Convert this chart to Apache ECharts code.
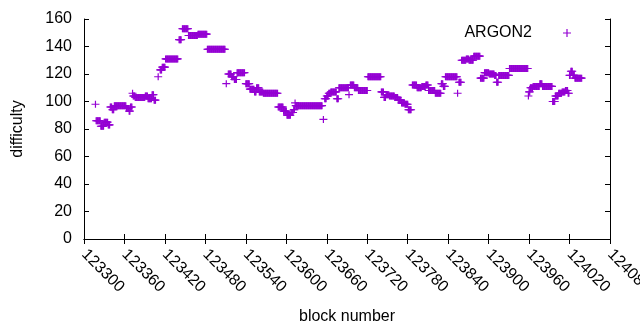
<!DOCTYPE html>
<html>
<head>
<meta charset="utf-8">
<script src="https://cdn.jsdelivr.net/npm/echarts@6/dist/echarts.min.js"></script>
<style>
  html, body { margin: 0; padding: 0; background: #fff; }
  #main { width: 640px; height: 330px; }
</style>
</head>
<body>
<div id="main"></div>
<script>
// x / y axis ticks
const blockTicks = [123300, 123360, 123420, 123480, 123540, 123600, 123660, 123720, 123780, 123840, 123900, 123960, 124020, 124080];
const difficultyTicks = [0, 20, 40, 60, 80, 100, 120, 140, 160];

// difficulty per block, as runs: [first block, last block, difficulty]
const difficultyRuns = [
  [123317, 123317, 98],
  [123318, 123324, 86], [123325, 123329, 82], [123330, 123335, 85], [123336, 123338, 83],
  [123339, 123341, 96], [123342, 123344, 94], [123345, 123362, 97], [123363, 123366, 95],
  [123367, 123368, 93], [123369, 123371, 96],
  [123372, 123372, 106], [123373, 123375, 104], [123376, 123390, 103], [123391, 123394, 104],
  [123395, 123400, 102], [123401, 123403, 105], [123404, 123406, 101],
  [123410, 123410, 118], [123413, 123415, 123], [123416, 123420, 125],
  [123421, 123439, 131],
  [123441, 123444, 145], [123446, 123454, 153], [123455, 123468, 148], [123469, 123482, 149],
  [123483, 123509, 138],
  [123511, 123511, 113], [123514, 123518, 120], [123519, 123522, 118], [123523, 123526, 116],
  [123527, 123538, 121],
  [123540, 123545, 113], [123546, 123552, 109], [123553, 123555, 107], [123556, 123559, 110],
  [123560, 123565, 107], [123566, 123587, 106],
  [123588, 123595, 96], [123596, 123600, 93], [123601, 123606, 90], [123607, 123610, 92],
  [123611, 123612, 94], [123613, 123613, 99], [123614, 123653, 97],
  [123655, 123655, 87],
  [123657, 123659, 102], [123660, 123662, 104], [123663, 123665, 106], [123666, 123674, 107],
  [123675, 123677, 102],
  [123678, 123692, 110], [123693, 123693, 105], [123695, 123700, 112], [123701, 123706, 110],
  [123707, 123720, 108],
  [123721, 123740, 118],
  [123741, 123744, 107], [123745, 123747, 103], [123748, 123752, 105], [123753, 123760, 104],
  [123761, 123765, 103], [123766, 123770, 101], [123771, 123775, 99], [123776, 123780, 98],
  [123781, 123785, 94],
  [123787, 123793, 112], [123794, 123800, 110], [123801, 123806, 111], [123807, 123810, 112],
  [123811, 123820, 108], [123821, 123829, 106],
  [123830, 123832, 113], [123833, 123835, 111],
  [123836, 123853, 118], [123854, 123854, 106],
  [123856, 123859, 114], [123860, 123866, 130], [123867, 123870, 131], [123871, 123877, 130],
  [123878, 123887, 133],
  [123888, 123893, 117], [123894, 123900, 121], [123901, 123908, 120], [123909, 123911, 119],
  [123912, 123914, 114], [123915, 123930, 119],
  [123931, 123958, 124],
  [123959, 123959, 104], [123960, 123961, 107], [123962, 123965, 110], [123966, 123975, 111],
  [123976, 123979, 113], [123980, 123994, 111],
  [123995, 123998, 100], [123999, 124003, 104], [124004, 124008, 106], [124009, 124013, 107],
  [124014, 124017, 108], [124018, 124019, 106],
  [124020, 124021, 119], [124022, 124024, 122], [124025, 124027, 119], [124028, 124038, 117]
];

// one point per block
const points = [];
difficultyRuns.forEach(function (r) {
  for (let b = r[0]; b <= r[1]; b++) points.push([b, r[2]]);
});

const plusIcon = 'path://M0,4.25H10V5.75H0Z M4.25,0H5.75V10H4.25Z';
const purple = '#9400D3';
const font = 'Liberation Sans, Arial, sans-serif';

const myChart = echarts.init(document.getElementById('main'), null, { renderer: 'canvas' });

const tickStyle = { show: true, inside: true, length: 5, lineStyle: { color: '#000', width: 1 } };
const lineStyle = { show: true, lineStyle: { color: '#000', width: 1 } };

const option = {
  animation: false,
  backgroundColor: '#fff',
  grid: { left: 84, right: 30, top: 19, bottom: 91, containLabel: false, outerBoundsMode: 'none' },
  legend: {
    data: [{ name: 'ARGON2', icon: plusIcon }],
    right: 69,
    top: 25,
    padding: 0,
    align: 'right',
    itemWidth: 8,
    itemHeight: 8,
    selectedMode: false,
    textStyle: { fontFamily: font, fontSize: 16, color: '#000', padding: [0, 26, 0, 0] }
  },
  xAxis: [
    {
      type: 'value',
      min: blockTicks[0],
      max: blockTicks[blockTicks.length - 1],
      interval: 60,
      name: 'block number',
      nameLocation: 'middle',
      nameGap: 70,
      nameTextStyle: { fontFamily: font, fontSize: 16, color: '#000' },
      axisLine: lineStyle,
      axisTick: tickStyle,
      splitLine: { show: false },
      axisLabel: {
        rotate: -45,
        margin: 13,
        fontFamily: font,
        fontSize: 16,
        color: '#000',
        showMinLabel: true,
        showMaxLabel: true,
        formatter: function (v) { return String(v); }
      }
    },
    {
      type: 'value',
      position: 'top',
      min: blockTicks[0],
      max: blockTicks[blockTicks.length - 1],
      interval: 60,
      axisLine: lineStyle,
      axisTick: tickStyle,
      axisLabel: { show: false },
      splitLine: { show: false }
    }
  ],
  yAxis: [
    {
      type: 'value',
      min: difficultyTicks[0],
      max: difficultyTicks[difficultyTicks.length - 1],
      interval: 20,
      name: 'difficulty',
      nameLocation: 'middle',
      nameGap: 58,
      nameTextStyle: { fontFamily: font, fontSize: 16, color: '#000' },
      axisLine: lineStyle,
      axisTick: tickStyle,
      splitLine: { show: false },
      axisLabel: { margin: 12, fontFamily: font, fontSize: 16, color: '#000' }
    },
    {
      type: 'value',
      position: 'right',
      min: difficultyTicks[0],
      max: difficultyTicks[difficultyTicks.length - 1],
      interval: 20,
      axisLine: lineStyle,
      axisTick: tickStyle,
      axisLabel: { show: false },
      splitLine: { show: false }
    }
  ],
  series: [
    {
      name: 'ARGON2',
      type: 'scatter',
      xAxisIndex: 0,
      yAxisIndex: 0,
      symbol: plusIcon,
      symbolSize: [8, 7],
      itemStyle: { color: purple, opacity: 1 },
      data: points
    }
  ]
};

myChart.setOption(option);
</script>
</body>
</html>
